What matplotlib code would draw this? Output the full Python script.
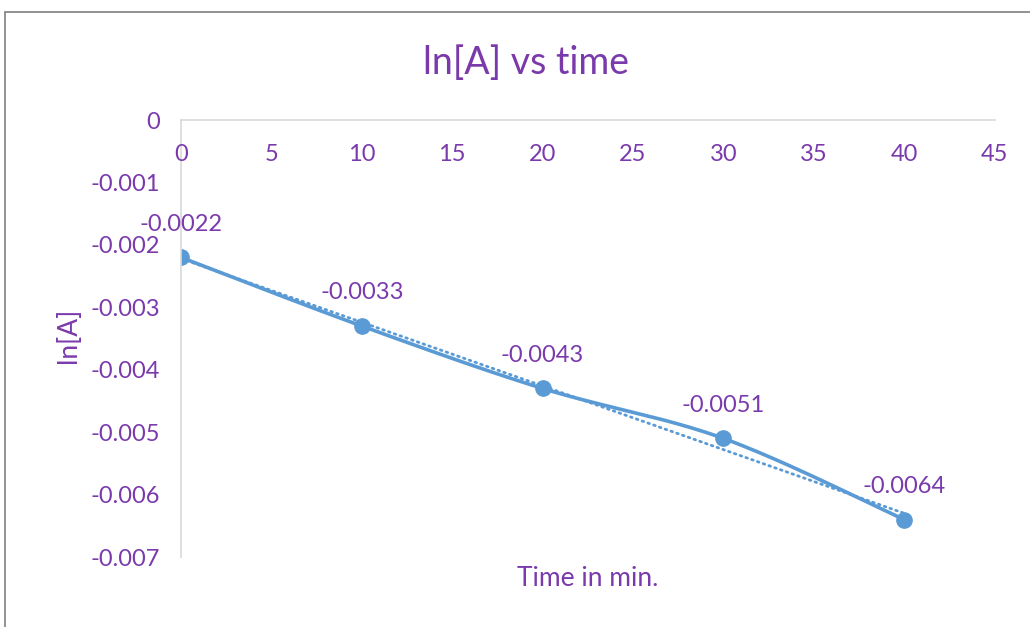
import numpy as np
import matplotlib.pyplot as plt
from matplotlib.patches import Rectangle

# data
time_min = [0, 10, 20, 30, 40]
ln_a = [-0.0022, -0.0033, -0.0043, -0.0051, -0.0064]
point_labels = ["-0.0022", "-0.0033", "-0.0043", "-0.0051", "-0.0064"]
x_ticks = list(range(0, 46, 5))
y_ticks = [-0.007, -0.006, -0.005, -0.004, -0.003, -0.002, -0.001, 0]
y_tick_labels = ["-0.007", "-0.006", "-0.005", "-0.004", "-0.003", "-0.002", "-0.001", "0"]

blue = "#5B9BD5"
purple = "#7A3AAC"
plt.rcParams['font.family'] = ['Lato', 'DejaVu Sans']


# Excel style smoothed line (Bezier through the points)
def smooth(xs, ys, n=40):
    x = np.array(xs, float)
    y = np.array(ys, float)
    px = np.concatenate([[x[0]], x, [x[-1]]])
    py = np.concatenate([[y[0]], y, [y[-1]]])
    outx, outy = [], []
    t = np.linspace(0, 1, n)
    for i in range(1, len(px) - 2):
        p0, p1, p2, p3 = [np.array([px[j], py[j]]) for j in range(i - 1, i + 3)]
        c1 = p1 + (p2 - p0) / 6
        c2 = p2 - (p3 - p1) / 6
        b = ((1 - t) ** 3)[:, None] * p1 + (3 * (1 - t) ** 2 * t)[:, None] * c1 \
            + (3 * (1 - t) * t ** 2)[:, None] * c2 + (t ** 3)[:, None] * p2
        outx.extend(b[:, 0])
        outy.extend(b[:, 1])
    return outx, outy


fig = plt.figure(figsize=(10.3, 6.27), dpi=100)
ax = fig.add_axes([0.1757, 0.1116, 0.79, 0.697])

# linear trendline
k, b0 = np.polyfit(time_min, ln_a, 1)
tx = np.array([time_min[0], time_min[-1]])
ax.plot(tx, k * tx + b0, color=blue, lw=2, ls=(0, (0.6, 1.6)), dash_capstyle='round')

sx, sy = smooth(time_min, ln_a)
ax.plot(sx, sy, color=blue, lw=2.6)
ax.plot(time_min, ln_a, 'o', color=blue, ms=11)

for x, y, s in zip(time_min, ln_a, point_labels):
    ax.annotate(s, (x, y), xytext=(0, 24), textcoords='offset points',
                ha='center', va='center', color=purple, fontsize=17)

ax.set_xlim(0, 45)
ax.set_ylim(-0.007, 0)
ax.set_xticks(x_ticks)
ax.set_yticks(y_ticks)
ax.set_yticklabels(y_tick_labels)

for side in ['right', 'bottom']:
    ax.spines[side].set_visible(False)
for side in ['left', 'top']:
    ax.spines[side].set_color('#D9D9D9')
    ax.spines[side].set_linewidth(1.2)
ax.tick_params(axis='x', bottom=False, top=False, labelbottom=False, labeltop=False)
ax.tick_params(axis='y', length=0, labelsize=17, labelcolor=purple, pad=15)

# x tick labels sit just below the axis line at y=0
for v in x_ticks:
    ax.annotate(str(v), (v, 1.0), xycoords=ax.get_xaxis_transform(), xytext=(0, -25),
                textcoords='offset points', ha='center', va='center',
                color=purple, fontsize=17)

fig.text(588 / 1030, 1 - 578 / 627, "Time in min.", ha='center', va='center',
         color=purple, fontsize=19)
fig.text(68 / 1030, 1 - 335 / 627, "ln[A]", ha='center', va='center', rotation=90,
         color=purple, fontsize=19)
fig.text(526 / 1030, 1 - 63 / 627, "ln[A] vs time", ha='center', va='center',
         color=purple, fontsize=27)

fig.patches.append(Rectangle((5 / 1030, -0.1), 1.2, 1.1 - 12 / 627, transform=fig.transFigure,
                             fill=False, edgecolor='#7F7F7F', lw=1.2))

fig.savefig("out.png", dpi=100)
